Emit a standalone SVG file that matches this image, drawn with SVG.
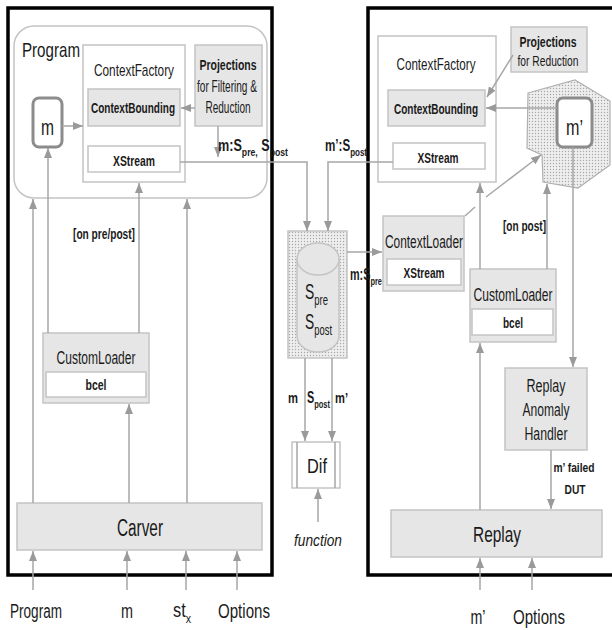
<svg xmlns="http://www.w3.org/2000/svg" width="612" height="630" viewBox="0 0 612 630">
<defs>
<marker id="ah" markerUnits="userSpaceOnUse" markerWidth="10" markerHeight="8" refX="10" refY="4" orient="auto">
<path d="M0,0 L10,4 L0,8 z" fill="#9a9a9a"/>
</marker>
<pattern id="dots" width="3" height="3" patternUnits="userSpaceOnUse">
<rect width="3" height="3" fill="#eeeeee"/>
<circle cx="1.5" cy="1.5" r="0.7" fill="#a8a8a8"/>
</pattern>
</defs>
<style>
text{font-family:"Liberation Sans",Arial,sans-serif;fill:#1a1a1a}
.c{text-anchor:middle}
.e{text-anchor:end}
.b{font-weight:bold}
.box{fill:#e6e6e6;stroke:#c4c4c4;stroke-width:1.5}
.wbox{fill:#ffffff;stroke:#c4c4c4;stroke-width:1.5}
.ln{fill:none;stroke:#a6a6a6;stroke-width:1.5}
.ar{fill:none;stroke:#a6a6a6;stroke-width:1.5;marker-end:url(#ah)}
.thick{fill:none;stroke:#000;stroke-width:3.5}
.mbox{fill:#fff;stroke:#8c8c8c;stroke-width:3}
</style>
<rect width="612" height="630" fill="#fff"/>

<!-- outer frames -->
<g id="left-frame"><rect class="thick" x="8" y="8" width="264" height="567"/></g>
<g id="right-frame"><path class="thick" d="M614,8 H368 V575 H614"/></g>

<!-- Program -->
<g id="program">
<rect x="14" y="26" width="253" height="172" rx="20" fill="#fff" stroke="#c4c4c4" stroke-width="1.5"/>
<text x="22" y="57" font-size="21" textLength="58" lengthAdjust="spacingAndGlyphs">Program</text>
</g>
<g id="contextfactory-left">
<rect class="wbox" x="83" y="45" width="102" height="137"/>
<text class="c" x="134" y="76" font-size="17" textLength="80" lengthAdjust="spacingAndGlyphs">ContextFactory</text>
</g>
<g id="contextbounding-left">
<rect class="box" x="88" y="89" width="92" height="37"/>
<text class="c b" x="133" y="113" font-size="14.5" textLength="84" lengthAdjust="spacingAndGlyphs">ContextBounding</text>
</g>
<g id="xstream-left">
<rect class="wbox" x="88" y="146" width="92" height="26"/>
<text class="c b" x="134" y="166" font-size="14.5" textLength="42" lengthAdjust="spacingAndGlyphs">XStream</text>
</g>
<g id="projections-left">
<rect class="box" x="195" y="45" width="67" height="81"/>
<text class="c b" x="228" y="70" font-size="15" textLength="57" lengthAdjust="spacingAndGlyphs">Projections</text>
<text class="c" x="227" y="92" font-size="16" textLength="60" lengthAdjust="spacingAndGlyphs">for Filtering &amp;</text>
<text class="c" x="228" y="113" font-size="16" textLength="45" lengthAdjust="spacingAndGlyphs">Reduction</text>
</g>
<g id="m-left">
<rect class="mbox" x="33" y="98" width="29" height="49" rx="6"/>
<text class="c" x="47.5" y="135" font-size="22" textLength="13" lengthAdjust="spacingAndGlyphs">m</text>
</g>
<g id="customloader-left">
<rect class="box" x="43" y="333" width="106" height="70"/>
<text class="c" x="96" y="364" font-size="17.5" textLength="79" lengthAdjust="spacingAndGlyphs">CustomLoader</text>
<rect class="wbox" x="46" y="372" width="100" height="25"/>
<text class="c b" x="96" y="390" font-size="14" textLength="21" lengthAdjust="spacingAndGlyphs">bcel</text>
</g>
<g id="carver">
<rect class="box" x="17" y="503" width="245" height="47"/>
<text class="c" x="140" y="536" font-size="23" textLength="46" lengthAdjust="spacingAndGlyphs">Carver</text>
</g>

<!-- middle -->
<g id="store">
<rect x="288" y="231" width="59" height="127" fill="url(#dots)" stroke="#c4c4c4" stroke-width="1.5"/>
<path d="M297,259 V336 A21,16 0 0 0 339,336 V259" fill="#e6e6e6" stroke="#c4c4c4" stroke-width="1.5"/>
<ellipse cx="318" cy="259" rx="21" ry="16" fill="#e6e6e6" stroke="#c4c4c4" stroke-width="1.5"/>
<text x="305" y="299" font-size="22" textLength="23" lengthAdjust="spacingAndGlyphs">S<tspan font-size="15" dy="6">pre</tspan></text>
<text x="305" y="329" font-size="22" textLength="27" lengthAdjust="spacingAndGlyphs">S<tspan font-size="15" dy="6">post</tspan></text>
</g>
<g id="dif">
<rect class="wbox" x="292" y="442" width="48" height="46"/>
<path class="ln" d="M297,442 V488 M335,442 V488" stroke="#c4c4c4"/>
<text class="c" x="317" y="473" font-size="20" textLength="20" lengthAdjust="spacingAndGlyphs">Dif</text>
</g>
<text class="c" x="318" y="546" font-size="17" font-style="italic" textLength="48" lengthAdjust="spacingAndGlyphs">function</text>

<!-- right -->
<g id="contextfactory-right">
<rect class="wbox" x="378" y="36" width="118" height="146"/>
<text class="c" x="436" y="70" font-size="17" textLength="79" lengthAdjust="spacingAndGlyphs">ContextFactory</text>
</g>
<g id="contextbounding-right">
<rect class="box" x="388" y="90" width="97" height="36"/>
<text class="c b" x="436" y="114" font-size="14.5" textLength="84" lengthAdjust="spacingAndGlyphs">ContextBounding</text>
</g>
<g id="xstream-right">
<rect class="wbox" x="393" y="143" width="92" height="26"/>
<text class="c b" x="438" y="163" font-size="14.5" textLength="41" lengthAdjust="spacingAndGlyphs">XStream</text>
</g>
<g id="projections-right">
<rect class="box" x="511" y="27" width="76" height="45"/>
<text class="c b" x="548" y="47" font-size="15" textLength="57" lengthAdjust="spacingAndGlyphs">Projections</text>
<text class="c" x="548" y="66" font-size="15" textLength="61" lengthAdjust="spacingAndGlyphs">for Reduction</text>
</g>
<g id="mprime-cloud">
<polygon points="528,93 575,80 610,101 610,165 578,188 543,182 542,155 527,148" fill="url(#dots)" stroke="#b0b0b0" stroke-width="1.2"/>
</g>
<g id="m-right">
<rect class="mbox" x="557" y="98" width="35" height="49" rx="6"/>
<text class="c" x="574.5" y="135" font-size="22" textLength="17" lengthAdjust="spacingAndGlyphs">m’</text>
</g>
<g id="contextloader">
<rect class="box" x="383" y="216" width="81" height="75"/>
<text class="c" x="424" y="248" font-size="17.5" textLength="78" lengthAdjust="spacingAndGlyphs">ContextLoader</text>
<rect class="wbox" x="387" y="259" width="74" height="26"/>
<text class="c b" x="424" y="278" font-size="14.5" textLength="41" lengthAdjust="spacingAndGlyphs">XStream</text>
</g>
<g id="customloader-right">
<rect class="box" x="470" y="269" width="86" height="73"/>
<text class="c" x="513" y="301" font-size="17.5" textLength="79" lengthAdjust="spacingAndGlyphs">CustomLoader</text>
<rect class="wbox" x="472" y="309" width="81" height="26"/>
<text class="c b" x="513" y="328" font-size="14" textLength="20" lengthAdjust="spacingAndGlyphs">bcel</text>
</g>
<g id="anomaly-handler">
<rect class="box" x="505" y="368" width="82" height="82"/>
<text class="c" x="546" y="392" font-size="17.5" textLength="39" lengthAdjust="spacingAndGlyphs">Replay</text>
<text class="c" x="546" y="416" font-size="17.5" textLength="47" lengthAdjust="spacingAndGlyphs">Anomaly</text>
<text class="c" x="546" y="440" font-size="17.5" textLength="43" lengthAdjust="spacingAndGlyphs">Handler</text>
</g>
<g id="replay">
<rect class="box" x="391" y="510" width="211" height="47"/>
<text class="c" x="497" y="542" font-size="22" textLength="48" lengthAdjust="spacingAndGlyphs">Replay</text>
</g>

<!-- connectors -->
<g id="connectors">
<path class="ar" d="M62,126 H83"/>
<path class="ar" d="M195,108 H181"/>
<path class="ar" d="M218,126 V157"/>
<path class="ar" d="M180,162 H307 V231"/>
<path class="ar" d="M393,162 H328 V231"/>
<path class="ar" d="M33,503 V199"/>
<path class="ar" d="M187,503 V199"/>
<path class="ar" d="M129,503 V404"/>
<path class="ar" d="M48,333 V148"/>
<path class="ar" d="M139,333 V183"/>
<path class="ar" d="M33,590 V551"/>
<path class="ar" d="M127,590 V551"/>
<path class="ar" d="M186,590 V551"/>
<path class="ar" d="M237,590 V551"/>
<path class="ar" d="M305,358 V441"/>
<path class="ar" d="M332,358 V441"/>
<path class="ar" d="M318,522 V489"/>
<path class="ar" d="M347,252 H382"/>
<path class="ar" d="M513,55 L487,97"/>
<path class="ar" d="M557,108 H486"/>
<path class="ar" d="M573,147 V367"/>
<path class="ar" d="M551,450 V509"/>
<path class="ar" d="M480,510 V343"/>
<path class="ar" d="M480,269 V183"/>
<path class="ar" d="M547,269 V184"/>
<path class="ln" d="M465,216 L475,207"/>
<path class="ar" d="M486,197 L541,155"/>
<path class="ar" d="M480,590 V558"/>
<path class="ar" d="M532,590 V558"/>
</g>

<!-- labels -->
<g id="labels">
<text class="b" x="218" y="151" font-size="16" textLength="70" lengthAdjust="spacingAndGlyphs">m:S<tspan font-size="11" dy="5">pre,</tspan><tspan font-size="16" dy="-5"> S</tspan><tspan font-size="11" dy="5">post</tspan></text>
<text class="b" x="325" y="151" font-size="16" textLength="42" lengthAdjust="spacingAndGlyphs">m’:S<tspan font-size="11" dy="5">post</tspan></text>
<text class="b" x="350" y="280" font-size="16" textLength="32" lengthAdjust="spacingAndGlyphs">m:S<tspan font-size="11" dy="5">pre</tspan></text>
<text class="b e" x="135" y="239" font-size="14" textLength="62" lengthAdjust="spacingAndGlyphs">[on pre/post]</text>
<text class="b e" x="546" y="231" font-size="14" textLength="43" lengthAdjust="spacingAndGlyphs">[on post]</text>
<text class="b" x="288" y="403" font-size="15" textLength="10" lengthAdjust="spacingAndGlyphs">m</text>
<text class="b" x="307" y="403" font-size="16" textLength="23" lengthAdjust="spacingAndGlyphs">S<tspan font-size="11" dy="5">post</tspan></text>
<text class="b" x="335" y="403" font-size="15" textLength="13" lengthAdjust="spacingAndGlyphs">m’</text>
<text class="b c" x="574" y="472" font-size="13.5" textLength="41" lengthAdjust="spacingAndGlyphs">m’ failed</text>
<text class="b c" x="575" y="494" font-size="13.5" textLength="21" lengthAdjust="spacingAndGlyphs">DUT</text>
<text class="c" x="36" y="618" font-size="20" textLength="52" lengthAdjust="spacingAndGlyphs">Program</text>
<text class="c" x="127" y="618" font-size="20" textLength="12" lengthAdjust="spacingAndGlyphs">m</text>
<text x="173" y="617" font-size="20" textLength="18" lengthAdjust="spacingAndGlyphs">st<tspan font-size="13" dy="6">x</tspan></text>
<text class="c" x="244" y="618" font-size="20" textLength="52" lengthAdjust="spacingAndGlyphs">Options</text>
<text class="c" x="478" y="624" font-size="20" textLength="15" lengthAdjust="spacingAndGlyphs">m’</text>
<text class="c" x="539" y="624" font-size="20" textLength="52" lengthAdjust="spacingAndGlyphs">Options</text>
</g>
</svg>
